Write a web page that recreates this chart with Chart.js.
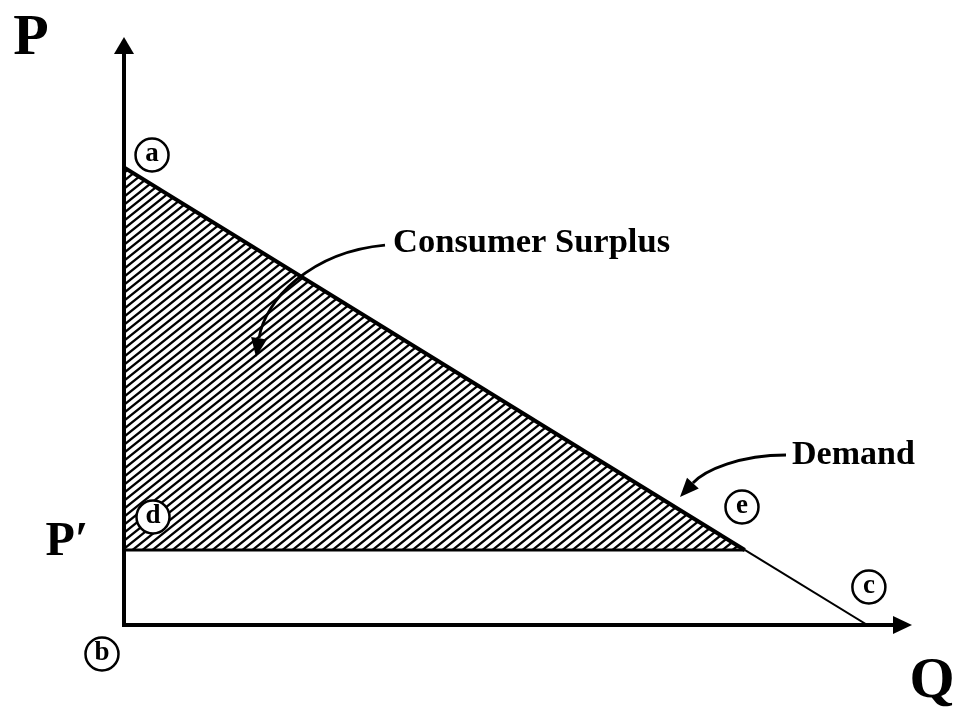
<!DOCTYPE html>
<html>
<head>
<meta charset="utf-8">
<script src="https://cdn.jsdelivr.net/npm/chart.js@4"></script>
<style>
  html, body { margin: 0; padding: 0; background: #fff; }
  #wrap { width: 955px; height: 711px; }
</style>
</head>
<body>
<div id="wrap"><canvas id="chart"></canvas></div>
<script>
// ── Data (Q across, P up) ──
// demand runs a -> e -> c
const demandQ = [0, 8.35, 10];
const demandP = [10, 1.64, 0];
const priceLevel = 1.64;   // P'
const axisMaxQ = 10.6;
const axisMaxP = 12.85;

// ── Annotations, in data coordinates ──
const circleNames = ['a', 'b', 'c', 'd', 'e'];
const circleQ = [0.377, -0.296, 10.02, 0.39, 8.313];
const circleP = [10.27, -0.634, 0.83, 2.36, 2.579];

const INK = '#000';
const SERIF = '"Liberation Serif", "Times New Roman", serif';

const labels = [
  { text: 'P', q: -1.251, p: 12.8, size: 58, align: 'center' },
  { text: 'Q', q: 10.87, p: -1.246, size: 58, align: 'center' },
  { text: 'P\u2032', q: -0.767, p: 1.79, size: 48, align: 'center' },
  { text: 'Consumer Surplus', q: 3.619, p: 8.348, size: 34.5, align: 'left' },
  { text: 'Demand', q: 8.986, p: 3.715, size: 34, align: 'left' },
];

// curved pointers: start, control 1, control 2, tip
const pointers = [
  [[3.511, 8.304], [2.502, 8.151], [1.897, 7.102], [1.776, 5.857]],
  [[8.905, 3.715], [8.286, 3.715], [7.815, 3.387], [7.479, 2.797]],
];

// hatch for the surplus triangle
function makeHatch() {
  const w = 10, h = 8;
  const c = document.createElement('canvas');
  c.width = w; c.height = h;
  const g = c.getContext('2d');
  g.strokeStyle = INK;
  g.lineWidth = 2.3;
  g.beginPath();
  for (let k = -1; k <= 1; k++) {
    const x0 = k * w;
    g.moveTo(x0 - 1.25, h + 1);
    g.lineTo(x0 + w + 1.25, -1);
  }
  g.stroke();
  return g.createPattern(c, 'repeat');
}

const pts = (qs, ps) => qs.map((q, i) => ({ x: q, y: ps[i] }));

const diagramPlugin = {
  id: 'diagram',
  afterDatasetsDraw(chart) {
    const { ctx, chartArea: ca, scales: { x, y } } = chart;
    const px = q => x.getPixelForValue(q);
    const py = p => y.getPixelForValue(p);
    const x0 = px(0), y0 = py(0);

    ctx.save();
    ctx.strokeStyle = INK;
    ctx.fillStyle = INK;
    ctx.lineCap = 'butt';

    // axes with arrowheads
    ctx.lineWidth = 4;
    ctx.beginPath();
    ctx.moveTo(x0, y0 + 2);
    ctx.lineTo(x0, ca.top + 12);
    ctx.moveTo(x0 - 2, y0);
    ctx.lineTo(ca.right - 12, y0);
    ctx.stroke();

    ctx.beginPath();
    ctx.moveTo(x0, ca.top);
    ctx.lineTo(x0 - 10, ca.top + 17);
    ctx.lineTo(x0 + 10, ca.top + 17);
    ctx.closePath();
    ctx.fill();

    ctx.beginPath();
    ctx.moveTo(ca.right, y0);
    ctx.lineTo(ca.right - 19, y0 - 9);
    ctx.lineTo(ca.right - 19, y0 + 9);
    ctx.closePath();
    ctx.fill();

    // circled letters
    ctx.lineWidth = 2.5;
    ctx.textAlign = 'center';
    ctx.textBaseline = 'middle';
    ctx.font = 'bold 27px ' + SERIF;
    circleNames.forEach((n, i) => {
      const cx = px(circleQ[i]), cy = py(circleP[i]);
      ctx.fillStyle = '#fff';
      ctx.beginPath();
      ctx.arc(cx, cy, 16.5, 0, Math.PI * 2);
      ctx.fill();
      ctx.stroke();
      ctx.fillStyle = INK;
      ctx.fillText(n, cx, cy - 1);
    });

    // text labels
    labels.forEach(l => {
      ctx.font = 'bold ' + l.size + 'px ' + SERIF;
      ctx.textAlign = l.align;
      ctx.textBaseline = 'middle';
      ctx.fillText(l.text, px(l.q), py(l.p));
    });

    // curved pointers
    ctx.lineWidth = 2.8;
    pointers.forEach(pt => {
      const [a, b, c, d] = pt.map(v => [px(v[0]), py(v[1])]);
      const ang = Math.atan2(d[1] - c[1], d[0] - c[0]);
      const len = 19, half = 8;
      const bx = d[0] - len * Math.cos(ang), by = d[1] - len * Math.sin(ang);
      ctx.beginPath();
      ctx.moveTo(a[0], a[1]);
      ctx.bezierCurveTo(b[0], b[1], c[0], c[1], bx, by);
      ctx.stroke();
      ctx.beginPath();
      ctx.moveTo(d[0], d[1]);
      ctx.lineTo(bx + half * Math.sin(ang), by - half * Math.cos(ang));
      ctx.lineTo(bx - half * Math.sin(ang), by + half * Math.cos(ang));
      ctx.closePath();
      ctx.fill();
    });

    ctx.restore();
  },
};

new Chart(document.getElementById('chart'), {
  type: 'scatter',
  data: {
    datasets: [
      {
        // surplus: demand from a to e, filled down to P'
        data: pts(demandQ.slice(0, 2), demandP.slice(0, 2)),
        showLine: true,
        borderColor: INK,
        borderWidth: 4,
        backgroundColor: makeHatch(),
        fill: { value: priceLevel },
        pointRadius: 0,
      },
      {
        // demand from e to c, thinner
        data: pts(demandQ.slice(1), demandP.slice(1)),
        showLine: true,
        borderColor: INK,
        borderWidth: 2,
        fill: false,
        pointRadius: 0,
      },
      {
        // P' line
        data: [{ x: 0, y: priceLevel }, { x: demandQ[1], y: priceLevel }],
        showLine: true,
        borderColor: INK,
        borderWidth: 3,
        fill: false,
        pointRadius: 0,
      },
    ],
  },
  options: {
    responsive: true,
    maintainAspectRatio: false,
    animation: false,
    layout: { padding: { left: 124, top: 37, right: 43, bottom: 86 } },
    scales: {
      x: { type: 'linear', min: 0, max: axisMaxQ, display: false },
      y: { type: 'linear', min: 0, max: axisMaxP, display: false },
    },
    plugins: {
      legend: { display: false },
      tooltip: { enabled: false },
    },
  },
  plugins: [diagramPlugin],
});
</script>
</body>
</html>
